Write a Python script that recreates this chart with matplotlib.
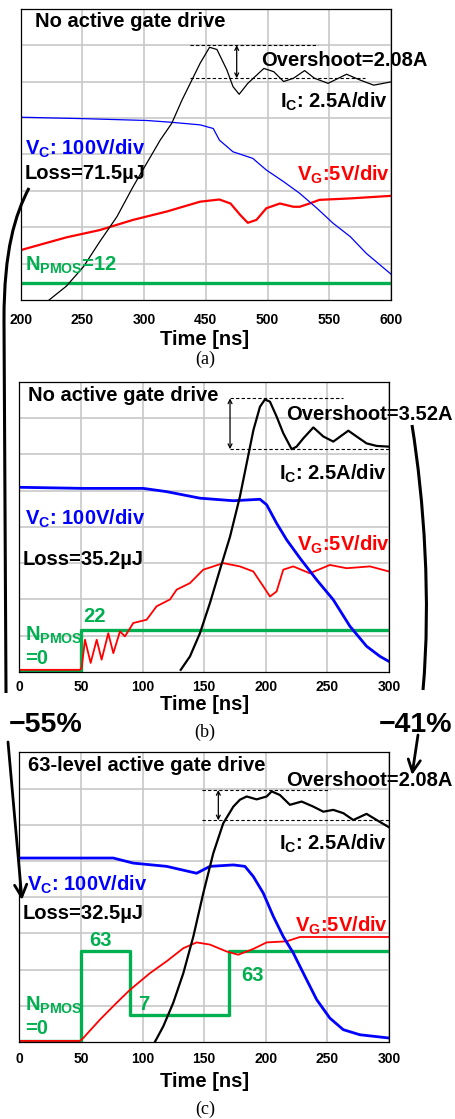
import numpy as np
import matplotlib
matplotlib.use('Agg')
import matplotlib.pyplot as plt
from matplotlib.path import Path
from matplotlib.patches import PathPatch, FancyArrowPatch

plt.rcParams['font.family'] = ['Liberation Sans', 'DejaVu Sans']
plt.rcParams['font.weight'] = 'bold'
plt.rcParams['mathtext.fontset'] = 'custom'
plt.rcParams['mathtext.rm'] = 'Liberation Sans:bold'
plt.rcParams['mathtext.it'] = 'Liberation Sans:bold'
plt.rcParams['mathtext.bf'] = 'Liberation Sans:bold'

# ---- data (time in ns, traces in scope divisions) ----
# (a) no active gate drive, broken time axis
a_ticks = [200, 250, 300, 450, 500, 550, 600]
ic_a_t = [223, 237, 251, 264, 278, 291, 306, 339, 367, 392, 416, 436, 453, 459, 467,
          472, 477, 484, 497, 505, 513, 521, 530, 538, 549, 564, 575, 586, 600]
ic_a_v = [0.0, 0.38, 0.92, 1.6, 2.29, 3.11, 3.75, 4.39, 4.85, 5.49, 6.04, 6.5, 6.94, 6.88, 6.32,
          5.86, 5.65, 5.95, 6.36, 6.27, 6.0, 6.09, 6.3, 6.09, 5.95, 6.2, 6.04, 5.9, 5.99]
vc_a_t = [200, 251, 306, 367, 436, 456, 461, 472, 488, 499, 513, 526, 540, 553, 567, 580, 600]
vc_a_v = [5.02, 4.98, 4.93, 4.88, 4.81, 4.71, 4.39, 4.07, 3.89, 3.57, 3.25, 2.93, 2.52, 2.11,
          1.74, 1.28, 0.71]
vg_a_t = [200, 237, 264, 291, 355, 436, 461, 470, 478, 484, 491, 499, 510, 521, 526, 534,
          542, 567, 600]
vg_a_v = [1.37, 1.72, 1.92, 2.20, 2.43, 2.70, 2.76, 2.65, 2.33, 2.12, 2.20, 2.52, 2.65, 2.56,
          2.56, 2.65, 2.75, 2.79, 2.86]
np_a_t = [200, 600]
np_a_v = [0.467, 0.467]

# (b) no active gate drive
bc_ticks = [0, 50, 100, 150, 200, 250, 300]
ic_b_t = [131, 138.5, 146.6, 154.7, 162.8, 171, 179, 184.5, 190, 195.3, 199.3, 203.4, 208.8,
          214.2, 221, 225, 230.5, 238.6, 246.7, 254.8, 267, 273.7, 281.8, 290, 300]
ic_b_v = [0.06, 0.43, 1.07, 1.9, 2.82, 3.73, 4.83, 5.75, 6.67, 7.31, 7.51, 7.45, 7.04,
          6.58, 6.14, 6.21, 6.44, 6.74, 6.49, 6.35, 6.65, 6.49, 6.3, 6.23, 6.21]
vc_b_t = [0, 51.9, 100.6, 119.6, 146.6, 173.7, 195.3, 200.7, 208.8, 217, 227.7, 241.3,
          254.8, 268.3, 281.8, 292.7, 300]
vc_b_v = [5.09, 5.06, 5.06, 4.97, 4.79, 4.72, 4.76, 4.61, 4.10, 3.64, 3.14, 2.54, 1.99,
          1.26, 0.71, 0.43, 0.29]
vg_b_t = [0, 49.2, 50.6, 53.3, 57.9, 62.8, 66.8, 72.2, 76.3, 81.7, 85.7, 92.5, 103.3, 111.4,
          122.3, 127.7, 138.5, 149.3, 165.5, 179, 189.9, 198, 203.4, 208.8, 214.2, 222.3,
          235.8, 252, 265.6, 284.6, 300]
vg_b_v = [0.06, 0.06, 0.11, 0.89, 0.25, 0.89, 0.34, 1.07, 0.52, 1.12, 0.98, 1.35, 1.44, 1.81,
          2.0, 2.27, 2.45, 2.82, 3.0, 2.91, 2.77, 2.36, 2.08, 2.22, 2.82, 2.91,
          2.72, 2.95, 2.86, 2.91, 2.77]
np_b_t = [0, 50, 50, 300]
np_b_v = [0.03, 0.03, 1.165, 1.165]

# (c) 63-level active gate drive
ic_c_t = [110, 116.8, 124.9, 133.1, 141.2, 149.3, 157.4, 165.5, 173.7, 179, 184.5, 192.6,
          200.7, 204.8, 211.5, 219.6, 229.1, 238.6, 246.7, 254.8, 262.9, 271, 281.8, 290, 300]
ic_c_v = [0.0, 0.43, 1.08, 1.9, 2.91, 4.11, 5.21, 6.04, 6.5, 6.69, 6.78, 6.70,
          6.78, 6.92, 6.82, 6.55, 6.64, 6.50, 6.36, 6.41, 6.32, 6.13, 6.30, 6.13, 5.93]
vc_c_t = [0, 38.4, 76.3, 92.5, 119.6, 143.9, 154.7, 173.7, 183.1, 189.9, 198, 206.1, 214.2,
          222.3, 230.5, 241.3, 252, 262.9, 276.4, 300]
vc_c_v = [5.08, 5.08, 5.08, 4.94, 4.85, 4.66, 4.85, 4.89, 4.85, 4.57, 4.11, 3.47, 2.91,
          2.46, 1.90, 1.17, 0.66, 0.34, 0.20, 0.11]
vg_c_t = [0, 49.2, 51.9, 65.5, 78.9, 89.8, 106, 119.6, 133.1, 143.9, 154.7, 168.2, 177.6,
          189.9, 200.7, 216.9, 227.7, 254.8, 300]
vg_c_v = [0.03, 0.03, 0.11, 0.62, 1.08, 1.44, 1.9, 2.23, 2.59, 2.75, 2.69, 2.50, 2.41,
          2.57, 2.75, 2.78, 2.90, 2.90, 2.90]
np_c_t = [0, 50, 50, 90, 90, 170, 170, 300]
np_c_v = [0.03, 0.03, 2.51, 2.51, 0.754, 0.754, 2.51, 2.51]

# ---- layout helpers (pixel coordinates of the 455x1119 image) ----
W, H = 455, 1119
BLUE, RED, GREEN = '#0000ff', '#ff0000', '#00b050'

fig = plt.figure(figsize=(W / 100, H / 100), dpi=100)


def ftext(x, y, s, size=14.5, **kw):
    # y is the vertical centre of capital letters
    kw.setdefault('fontweight', 'bold')
    fig.text(x / W, 1 - (y + 0.5 * size * 1.389 * 0.716) / H, s, fontsize=size,
             va='baseline', **kw)


def make_ax(l, t, r, b, xlim, ticks, labels, pad):
    ax = fig.add_axes([l / W, 1 - b / H, (r - l) / W, (b - t) / H])
    ax.set_xlim(*xlim)
    ax.set_ylim(0, 8)
    ax.set_xticks(ticks)
    ax.set_xticklabels(labels)
    ax.set_yticks(range(1, 8))
    ax.set_yticklabels([])
    ax.tick_params(length=0, labelsize=10, pad=pad)
    ax.grid(True, color='#c8c8c8', lw=1.2)
    ax.set_axisbelow(True)
    for s in ax.spines.values():
        s.set_linewidth(0.9)
    return ax


def overshoot_marks(ax, x0, x1, x2, xa, ytop, ybot):
    ax.plot([x0, x1], [ytop, ytop], 'k--', lw=0.8, dashes=(3, 2))
    ax.plot([x0, x2], [ybot, ybot], 'k--', lw=0.8, dashes=(3, 2))
    ax.annotate('', xy=(xa, ytop), xytext=(xa, ybot),
                arrowprops=dict(arrowstyle='<->', lw=0.9, color='k',
                                shrinkA=0, shrinkB=0, mutation_scale=7))


# ---- (a) ----
pos = lambda t: np.interp(t, a_ticks, range(7))
ax = make_ax(20.7, 8.7, 391, 300, (0, 6), range(7), [str(v) for v in a_ticks], 9.5)
ax.plot(pos(np_a_t), np_a_v, color=GREEN, lw=2.4, solid_capstyle='butt')
ax.plot(pos(vg_a_t), vg_a_v, color=RED, lw=1.6)
ax.plot(pos(vc_a_t), vc_a_v, color=BLUE, lw=0.9)
ax.plot(pos(ic_a_t), ic_a_v, color='k', lw=0.9)
overshoot_marks(ax, 2.74, 4.82, 5.58, 3.5, 7.0, 6.09)

ftext(35, 19.5, 'No active gate drive')
ftext(261, 59, 'Overshoot=2.08A')
ftext(280, 100, r'I$_{\rm C}$: 2.5A/div')
ftext(25, 147, r'V$_{\rm C}$: 100V/div', color=BLUE)
ftext(25, 172, 'Loss=71.5µJ')
ftext(297, 173, r'V$_{\rm G}$:5V/div', color=RED)
ftext(25, 263, r'N$_{\rm PMOS}$=12', color=GREEN)
ftext(205, 338, 'Time [ns]', ha='center')
ftext(205, 357, '(a)', size=13, ha='center', family='Liberation Serif', fontweight='normal')

# ---- (b) ----
ax = make_ax(19.3, 381.7, 389, 672, (0, 300), bc_ticks, [str(v) for v in bc_ticks], 6)
ax.plot(np_b_t, np_b_v, color=GREEN, lw=2.4)
ax.plot(vg_b_t, vg_b_v, color=RED, lw=1.3)
ax.plot(vc_b_t, vc_b_v, color=BLUE, lw=2.0)
ax.plot(ic_b_t, ic_b_v, color='k', lw=1.6)
overshoot_marks(ax, 171, 263, 300, 171, 7.54, 6.14)

ftext(28, 394, 'No active gate drive')
ftext(286, 413, 'Overshoot=3.52A')
ftext(279, 472, r'I$_{\rm C}$: 2.5A/div')
ftext(25, 517, r'V$_{\rm C}$: 100V/div', color=BLUE)
ftext(297, 543, r'V$_{\rm G}$:5V/div', color=RED)
ftext(23, 558, 'Loss=35.2µJ')
ftext(83, 615, '22', color=GREEN)
ftext(25, 633, r'N$_{\rm PMOS}$', color=GREEN)
ftext(25, 657, '=0', color=GREEN)
ftext(205, 703, 'Time [ns]', ha='center')
ftext(205, 730, '(b)', size=13, ha='center', family='Liberation Serif', fontweight='normal')

# ---- (c) ----
ax = make_ax(19.3, 752.3, 389, 1042, (0, 300), bc_ticks, [str(v) for v in bc_ticks], 7)
ax.plot(np_c_t, np_c_v, color=GREEN, lw=2.4)
ax.plot(vg_c_t, vg_c_v, color=RED, lw=1.3)
ax.plot(vc_c_t, vc_c_v, color=BLUE, lw=2.0)
ax.plot(ic_c_t, ic_c_v, color='k', lw=1.6)
overshoot_marks(ax, 148, 252, 300, 161.5, 6.96, 6.12)

ftext(28, 764, '63-level active gate drive')
ftext(286, 779, 'Overshoot=2.08A')
ftext(279, 842, r'I$_{\rm C}$: 2.5A/div')
ftext(27, 883, r'V$_{\rm C}$: 100V/div', color=BLUE)
ftext(23, 912, 'Loss=32.5µJ')
ftext(295, 924, r'V$_{\rm G}$:5V/div', color=RED)
ftext(89, 939, '63', color=GREEN)
ftext(241, 974, '63', color=GREEN)
ftext(138, 1003, '7', color=GREEN)
ftext(25, 1003, r'N$_{\rm PMOS}$', color=GREEN)
ftext(25, 1027, '=0', color=GREEN)
ftext(205, 1080, 'Time [ns]', ha='center')
ftext(205, 1107, '(c)', size=13, ha='center', family='Liberation Serif', fontweight='normal')

# ---- reduction callouts ----
ftext(46, 722, '\u221255%', size=20.5, ha='center')
ftext(416, 722, '\u221241%', size=20.5, ha='center')


def fpath(pts, codes):
    v = [(x / W, 1 - y / H) for x, y in pts]
    fig.add_artist(PathPatch(Path(v, codes), fill=False, lw=2.2, ec='k',
                             transform=fig.transFigure))


fpath([(29, 188), (15, 215), (4, 250), (4, 320), (6, 693)],
      [Path.MOVETO, Path.CURVE4, Path.CURVE4, Path.CURVE4, Path.LINETO])
fpath([(412, 425), (424, 500), (431, 600), (423, 690)],
      [Path.MOVETO, Path.CURVE4, Path.CURVE4, Path.CURVE4])


def farrow(p0, p1):
    fig.add_artist(FancyArrowPatch((p0[0] / W, 1 - p0[1] / H), (p1[0] / W, 1 - p1[1] / H),
                                   arrowstyle='->', mutation_scale=22, lw=2.0, color='k',
                                   transform=fig.transFigure, shrinkA=0, shrinkB=0))


farrow((8, 742), (22, 900))
farrow((418, 735), (412, 775))

fig.savefig('out.png', dpi=100)
